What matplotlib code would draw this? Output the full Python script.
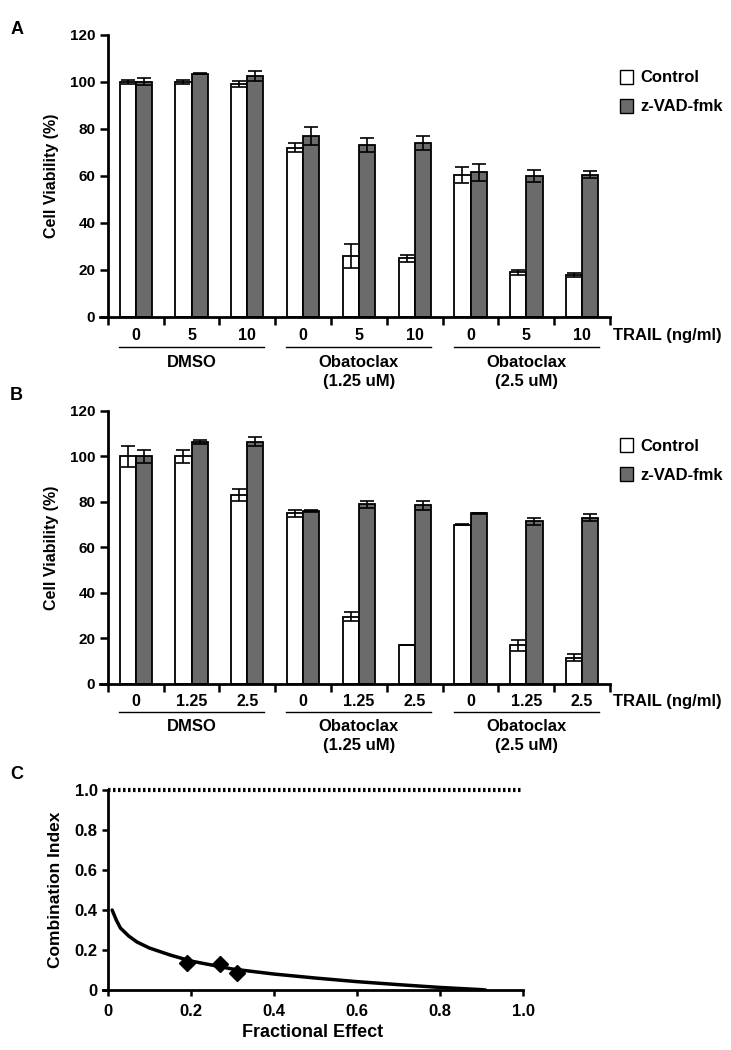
import matplotlib
matplotlib.use("Agg")
import matplotlib.pyplot as plt
from matplotlib.patches import Patch
from matplotlib.transforms import blended_transform_factory
import numpy as np

plt.rcParams['font.family'] = ['Liberation Sans', 'DejaVu Sans']
plt.rcParams['font.weight'] = 'bold'
plt.rcParams['axes.labelweight'] = 'bold'

# ---- data ----
groups = ["DMSO", "Obatoclax\n(1.25 uM)", "Obatoclax\n(2.5 uM)"]

a_trail = ["0", "5", "10"] * 3
a_ctrl = [100, 100, 99, 72, 26, 25, 60.5, 19, 18]
a_ctrl_err = [1, 1, 1.2, 2, 5, 1.5, 3.5, 1, 0.8]
a_zvad = [100, 103.5, 102.5, 77, 73, 74, 61.5, 60, 60.5]
a_zvad_err = [1.5, 0.3, 2, 4, 3, 3, 3.5, 2.5, 1.5]

b_trail = ["0", "1.25", "2.5"] * 3
b_ctrl = [100, 100, 83, 75, 29.5, 17, 70, 17, 11.5]
b_ctrl_err = [4.5, 3, 2.5, 1.5, 2, 0, 0.3, 2.5, 1.5]
b_zvad = [100, 106.5, 106.5, 76, 79, 78.5, 75, 71.5, 73]
b_zvad_err = [3, 0.8, 2, 0.5, 1.5, 2, 0.3, 1.5, 1.5]

c_fa = [0.01, 0.02, 0.03, 0.05, 0.07, 0.1, 0.15, 0.2, 0.25, 0.3, 0.4,
        0.5, 0.6, 0.7, 0.8, 0.9, 0.91]
c_ci = [0.40, 0.35, 0.31, 0.27, 0.24, 0.21, 0.175, 0.145, 0.125, 0.105,
        0.08, 0.06, 0.042, 0.027, 0.013, 0.002, 0.0]
pts_fa = [0.19, 0.27, 0.31]
pts_ci = [0.135, 0.13, 0.085]

GRAY = "#6b6b6b"
W = 0.29


def bar_panel(ax, trail, ctrl, ctrl_err, zvad, zvad_err, line_y, text_y, leg_y, pad):
    x = np.arange(len(trail))
    ekw = dict(elinewidth=1.2, capsize=5, capthick=1.2, ecolor="black")
    ax.bar(x - W / 2, ctrl, W, color="white", edgecolor="black", linewidth=1.3,
           yerr=ctrl_err, error_kw=ekw, zorder=2)
    ax.bar(x + W / 2, zvad, W, color=GRAY, edgecolor="black", linewidth=1.3,
           yerr=zvad_err, error_kw=ekw, zorder=2)
    # x spine sticks out a little to the left of the y axis
    ax.set_xlim(-0.64, len(trail) - 0.5)
    ax.spines["left"].set_position(("data", -0.5))
    ax.set_ylim(0, 120)
    ax.set_yticks(range(0, 121, 20))
    ax.set_xticks(np.arange(len(trail) + 1) - 0.5)
    ax.set_xticklabels([])
    ax.set_xticks(x, minor=True)
    ax.set_xticklabels(trail, minor=True)
    ax.tick_params(axis="x", which="minor", length=0, pad=pad, labelsize=11.5)
    ax.tick_params(axis="x", which="major", direction="out", length=6, width=1.8)
    ax.tick_params(axis="y", direction="out", length=6, width=1.8, labelsize=11, pad=3)
    for s in ("top", "right"):
        ax.spines[s].set_visible(False)
    for s in ("left", "bottom"):
        ax.spines[s].set_linewidth(2)
    ax.set_ylabel("Cell Viability (%)", fontsize=11.5, labelpad=8)
    tr = blended_transform_factory(ax.transData, ax.transAxes)
    for g, name in enumerate(groups):
        x0, x1 = 3 * g - 0.3, 3 * g + 2.3
        ax.plot([x0, x1], [line_y, line_y], color="black", lw=1, transform=tr, clip_on=False)
        ax.text(3 * g + 1, text_y, name, transform=tr, ha="center", va="top",
                fontsize=12, linespacing=1.3)
    ax.text(1.005, -0.065, "TRAIL (ng/ml)", transform=ax.transAxes, ha="left",
            va="center", fontsize=12)
    handles = [Patch(facecolor="white", edgecolor="black", label="Control"),
               Patch(facecolor=GRAY, edgecolor="black", label="z-VAD-fmk")]
    ax.legend(handles=handles, loc="upper left", bbox_to_anchor=(0.99, leg_y),
              frameon=False, handlelength=0.8, handleheight=0.9, handletextpad=0.4,
              labelspacing=0.8, prop=dict(size=12, weight="bold"))


fig = plt.figure(figsize=(7.31, 10.5), dpi=100)

axA = fig.add_axes([0.1368, 0.6981, 0.6977, 0.2686])
bar_panel(axA, a_trail, a_ctrl, a_ctrl_err, a_zvad, a_zvad_err, -0.106, -0.135, 0.93, 8)

axB = fig.add_axes([0.1368, 0.3486, 0.6977, 0.2600])
bar_panel(axB, b_trail, b_ctrl, b_ctrl_err, b_zvad, b_zvad_err, -0.103, -0.13, 0.955, 7)

axC = fig.add_axes([0.1409, 0.0571, 0.5746, 0.1905])
axC.plot(c_fa, c_ci, color="black", lw=2.5, solid_capstyle="round")
axC.plot(pts_fa, pts_ci, linestyle="none", marker="D", markersize=8, color="black")
axC.plot([0, 1.0], [1.0, 1.0], color="black", lw=3, linestyle=(0, (0.6, 0.6)), clip_on=False)
axC.set_xlim(-0.012, 1.0)
axC.spines["left"].set_position(("data", 0))
axC.set_ylim(0, 1.0)
axC.set_xticks(np.arange(0, 1.01, 0.2))
axC.set_xticklabels(["0", "0.2", "0.4", "0.6", "0.8", "1.0"])
axC.set_yticks(np.arange(0, 1.01, 0.2))
axC.set_yticklabels(["0", "0.2", "0.4", "0.6", "0.8", "1.0"])
axC.tick_params(axis="both", direction="out", length=4, width=1.8, labelsize=12)
axC.tick_params(axis="x", pad=6)
for s in ("top", "right"):
    axC.spines[s].set_visible(False)
for s in ("left", "bottom"):
    axC.spines[s].set_linewidth(2)
axC.set_ylabel("Combination Index", fontsize=12.5, labelpad=8)
axC.set_xlabel("Fractional Effect", fontsize=13, labelpad=4)

for lab, y in (("A", 0.972), ("B", 0.623), ("C", 0.262)):
    fig.text(0.014, y, lab, fontsize=13, fontweight="bold", va="center")

fig.savefig("out.png", dpi=100)
